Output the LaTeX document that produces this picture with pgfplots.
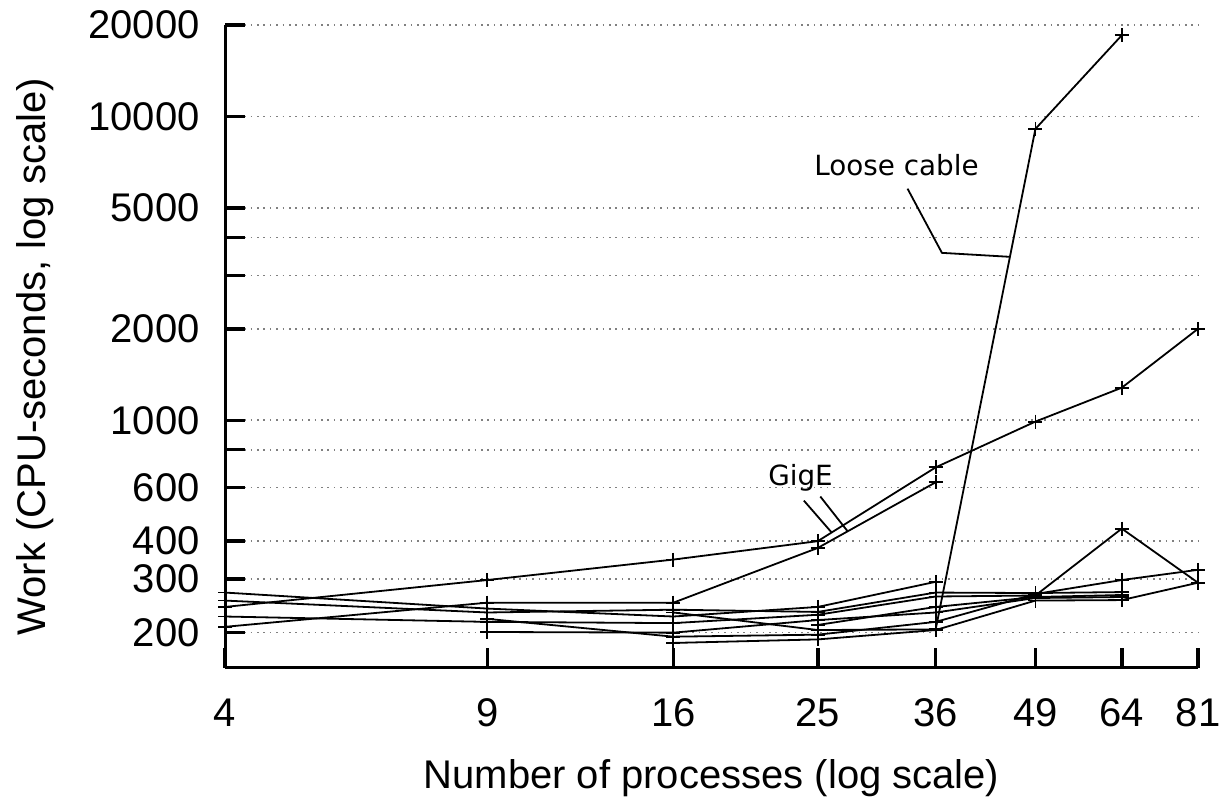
\documentclass[border=0pt]{standalone}
\usepackage{pgfplots}
\pgfplotsset{compat=1.18}
\usepackage{fontspec}
\setmainfont{Liberation Sans}
\newfontfamily\annfont{DejaVu Sans}
\begin{document}
\begin{tikzpicture}
\begin{axis}[
  at={(112.5pt,66pt)}, anchor=south west,
  scale only axis, width=486.5pt, height=321.5pt,
  xmode=log, ymode=log,
  xmin=4, xmax=81, ymin=153, ymax=20000,
  axis x line=bottom, axis y line=left,
  axis line style={-, line width=1.5pt},
  every outer x axis line/.append style={-},
  every outer y axis line/.append style={-},
  xtick={4,9,16,25,36,49,64,81},
  xticklabels={4,9,16,25,36,49,64,81},
  ytick={200,300,400,600,800,1000,2000,3000,4000,5000,10000,20000},
  yticklabels={200,300,400,600,,1000,2000,,,5000,10000,20000},
  minor tick style={draw=none},
  tick align=inside,
  major tick length=10pt,
  major tick style={black, line width=1.75pt},
  ymajorgrids,
  major grid style={gray, line width=0.8pt, dash pattern=on 0.8pt off 2.4pt},
  /pgf/number format/assume math mode=true,
  tick label style={font=\fontsize{20}{24}\selectfont},
  xticklabel style={inner sep=0pt, anchor=base, yshift=-29.5pt},
  yticklabel style={inner sep=0pt, anchor=east, xshift=-12.5pt},
  label style={font=\fontsize{20}{24}\selectfont},
  xlabel={Number of processes (log scale)},
  xlabel style={at={(axis description cs:0.5,-0.171)}, anchor=center},
  ylabel={Work (CPU-seconds, log scale)},
  ylabel style={at={(axis description cs:-0.195,0.484)}, anchor=center},
  clip=false,
  cycle list={{black}},
  every axis plot post/.append style={black, solid, line width=0.9pt, mark=+, mark size=3.5pt, mark options={solid, black, line width=0.9pt}},
]
% GigE 1
\addplot coordinates {(4,243)(9,298)(16,348)(25,400)(36,700)(49,990)(64,1280)(81,2000)};
% GigE 2
\addplot coordinates {(4,209)(9,251)(16,251)(25,380)(36,625)};
\addplot coordinates {(4,271)(9,240)(16,226)(25,243)(36,294)};
\addplot coordinates {(4,255)(9,233)(16,238)(25,234)(36,271)(49,270)(64,272)};
\addplot coordinates {(4,226)(9,217)(16,215)(25,229)(36,263)(49,265)(64,440)(81,292)};
\addplot coordinates {(9,201)(16,200)(25,220)(36,233)(49,260)(64,262)};
\addplot coordinates {(16,185)(25,190)(36,204)(49,255)(64,256)(81,292)};
% Loose cable
\addplot coordinates {(16,233)(25,204)(36,205)(49,9100)(64,18500)};
\addplot coordinates {(9,222)(16,194)(25,197)(36,217)(49,268)(64,298)(81,322)};
\addplot coordinates {(25,212)(36,243)(49,262)(64,266)};
% annotations
\node[font=\annfont\fontsize{13.9}{16}\selectfont] at (axis cs:31.9,6890) {Loose cable};
\draw[line width=0.9pt] (axis cs:33.0,5785) -- (axis cs:36.7,3557) -- (axis cs:45.3,3451);
\node[font=\annfont\fontsize{13.9}{16}\selectfont] at (axis cs:23.7,648) {GigE};
\draw[line width=0.9pt] (axis cs:23.95,544) -- (axis cs:26.1,427);
\draw[line width=0.9pt] (axis cs:25.2,561) -- (axis cs:27.4,432);
\end{axis}
\pgfresetboundingbox
\path[use as bounding box] (0,0) rectangle (611pt,400pt);
\end{tikzpicture}
\end{document}
